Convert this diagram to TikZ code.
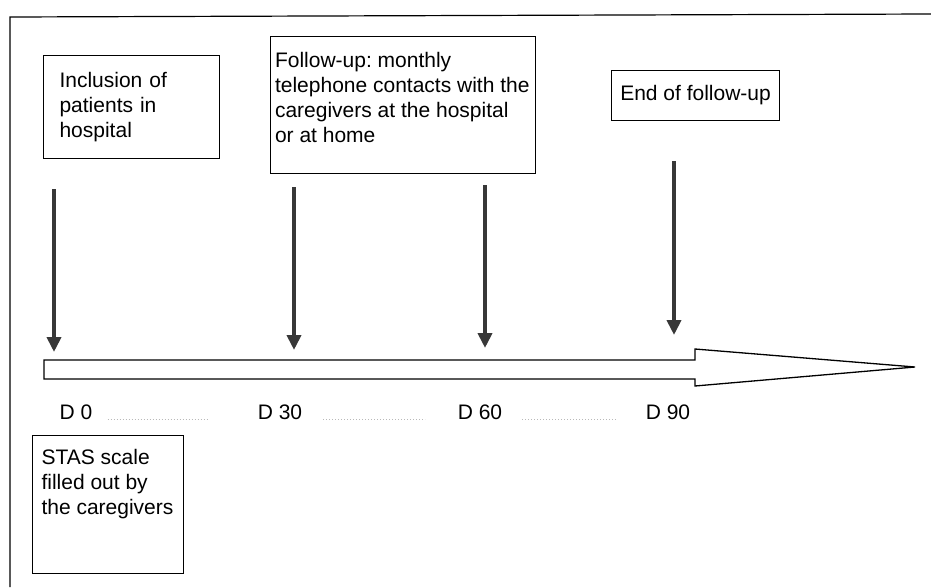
\documentclass[tikz,border=0pt]{standalone}
\usepackage{fontspec}
\setmainfont{Liberation Sans}
\usepackage{tikz}
\usetikzlibrary{arrows.meta}
\frenchspacing

\newcommand{\notetext}[3]{\parbox[t][#1][t]{#2}{\raggedright #3}}

\begin{document}
\begin{tikzpicture}[x=1pt, y=-1pt,
  note/.style={draw, line width=1.1pt, anchor=north west, align=left, font=\fontsize{21}{25}\selectfont},
  daylabel/.style={inner sep=0pt, font=\fontsize{21}{25}\selectfont},
  gapdots/.style={gray!55, dotted, line width=1pt},
  event/.style={black!78, line width=4.5pt, -{Triangle[width=14pt,length=15pt]}}]
\useasboundingbox (0,0) rectangle (931,587);

% Drawing frame
\draw[line width=1.2pt] (10,587) -- (10,17) -- (931,14);

% Drawing boxes
\node[note, inner xsep=16pt, text width=144pt, minimum height=103pt] (incl) at (43,55) {Inclusion of\\patients in\\hospital};
\node[note, inner xsep=4.5pt, inner ysep=16pt] (follow) at (270,36) {\notetext{105pt}{256pt}{Follow-up: monthly\\telephone contacts with the\\caregivers at the hospital\\or at home}};
\node[note, minimum width=168pt, minimum height=50pt] (endfu) at (611,70) {End of follow-up};
\node[note, inner xsep=9pt, inner ysep=14pt] (stas) at (32,435) {\notetext{110pt}{133pt}{STAS scale\\filled out by\\the caregivers}};

% Drawing time axis
\draw[line width=1.3pt, fill=white] (44,360) -- (695,360) -- (695,349) -- (915,367) -- (695,386) -- (695,379) -- (44,379) -- cycle;

% Drawing days
\node[daylabel] (d0) at (76,412) {D 0};
\node[daylabel] (d30) at (280,412) {D 30};
\node[daylabel] (d60) at (480,412) {D 60};
\node[daylabel] (d90) at (668,412) {D 90};
\draw[gapdots] ([xshift=15pt]d0.base east) -- +(100,0);
\draw[gapdots] ([xshift=21pt]d30.base east) -- +(102,0);
\draw[gapdots] ([xshift=20pt]d60.base east) -- +(95,0);

% Drawing events
\foreach \name/\x/\ya/\yb in {a0/54/189/352, a30/294/187/350, a60/485/185/348, a90/674/161/335} {
  \coordinate (\name top) at (\x,\ya);
  \coordinate (\name tip) at (\x,\yb);
  \draw[event] (\name top) -- (\name tip);
}
\end{tikzpicture}
\end{document}
